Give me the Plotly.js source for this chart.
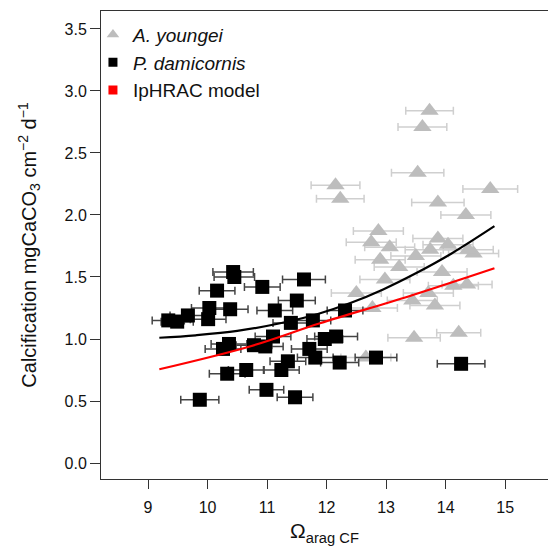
<!DOCTYPE html>
<html><head><meta charset="utf-8">
<script src="https://cdn.plot.ly/plotly-3.0.1.min.js"></script>
<style>html,body{margin:0;padding:0;overflow:hidden;background:#fff}</style>
</head><body><div id="chart" style="width:548px;height:549px"></div>
<script>
// A. youngei (grey triangles)
const youngeiOmega = [13.73,13.61,13.53,12.15,12.23,14.75,13.87,14.34,12.87,12.75,13.87,13.06,14.04,13.74,13.50,12.90,14.47,14.38,13.22,13.94,12.98,14.13,14.36,13.71,12.50,13.44,13.82,12.77,13.47,14.22,12.66];
const youngeiCalc  = [2.84,2.71,2.34,2.24,2.13,2.21,2.10,2.00,1.87,1.78,1.81,1.74,1.76,1.72,1.67,1.64,1.69,1.72,1.58,1.54,1.48,1.43,1.44,1.37,1.37,1.31,1.27,1.25,1.01,1.05,0.85];
const youngeiOmegaErr = [0.40,0.41,0.44,0.41,0.40,0.46,0.44,0.42,0.42,0.42,0.42,0.42,0.42,0.42,0.42,0.42,0.42,0.42,0.42,0.42,0.42,0.42,0.42,0.42,0.42,0.42,0.42,0.42,0.44,0.37,0.42];

// P. damicornis (black squares)
const damiOmega = [9.34,9.49,9.67,9.87,10.01,10.03,10.16,10.26,10.36,10.33,10.38,10.43,10.45,10.65,10.78,10.97,10.92,10.99,11.10,11.13,11.24,11.35,11.40,11.50,11.47,11.62,11.71,11.77,11.81,11.97,12.16,12.22,12.31,12.83,14.26];
const damiCalc  = [1.15,1.14,1.19,0.51,1.16,1.25,1.39,0.92,0.96,0.72,1.24,1.54,1.50,0.75,0.95,0.94,1.42,0.59,1.02,1.23,0.75,0.82,1.13,1.31,0.53,1.48,0.92,1.15,0.85,1.00,1.02,0.81,1.23,0.85,0.80];
const damiOmegaErr = [0.27,0.27,0.30,0.32,0.30,0.30,0.30,0.30,0.30,0.30,0.30,0.34,0.34,0.30,0.30,0.30,0.30,0.29,0.30,0.30,0.30,0.30,0.30,0.31,0.30,0.36,0.30,0.30,0.30,0.30,0.36,0.32,0.30,0.35,0.40];

// fitted curve (black) and IpHRAC model (red)
const fitOmega = [9.19,9.8,10.5,11.2,11.84,12.4,12.95,13.5,14.1,14.82];
const fitCalc  = [1.01,1.03,1.065,1.125,1.20,1.29,1.40,1.53,1.69,1.91];
const modelOmega = [9.19,10.71,11.89,13.40,14.82];
const modelCalc  = [0.756,0.94,1.127,1.347,1.57];

const xTickVals = [9,10,11,12,13,14,15];
const yTickVals = [0,0.5,1,1.5,2,2.5,3,3.5];
const yTickText = ['0.0','0.5','1.0','1.5','2.0','2.5','3.0','3.5'];

const traces = [
  {x: youngeiOmega, y: youngeiCalc, type:'scatter', mode:'markers', showlegend:false,
   marker:{symbol:'triangle-up', size:16, color:'#bdbdbd'},
   error_x:{type:'data', array: youngeiOmegaErr, color:'#cfcfcf', thickness:1.5, width:4}},
  {x: damiOmega, y: damiCalc, type:'scatter', mode:'markers', showlegend:false,
   marker:{symbol:'square', size:14, color:'#000'},
   error_x:{type:'data', array: damiOmegaErr, color:'#444', thickness:1.5, width:4}},
  {x: fitOmega, y: fitCalc, type:'scatter', mode:'lines', showlegend:false,
   line:{color:'#000', width:2.2, shape:'spline'}},
  {x: modelOmega, y: modelCalc, type:'scatter', mode:'lines', showlegend:false,
   line:{color:'#ff0000', width:2.2, shape:'spline'}},
  // legend entries
  {x:[null], y:[null], type:'scatter', mode:'markers', name:'<i>A. youngei</i>', legendgroup:'a',
   marker:{symbol:'triangle-up', size:11, color:'#bdbdbd'}},
  {x:[null], y:[null], type:'scatter', mode:'markers', name:'<i>P. damicornis</i>', legendgroup:'b',
   marker:{symbol:'square', size:9, color:'#000'}},
  {x:[null], y:[null], type:'scatter', mode:'markers', name:'IpHRAC model', legendgroup:'c',
   marker:{symbol:'square', size:9, color:'#ff0000'}}
];

const axisCommon = {
  showgrid:false, zeroline:false, showline:true, linecolor:'#333', linewidth:1,
  ticks:'outside', tickcolor:'#333', tickwidth:1,
  tickfont:{family:'Liberation Sans, Arial, sans-serif', size:16, color:'#111'}
};

const layout = {
  width:548, height:549,
  margin:{l:101, r:0, t:11, b:70},
  paper_bgcolor:'#fff', plot_bgcolor:'#fff',
  font:{family:'Liberation Sans, Arial, sans-serif', color:'#111'},
  xaxis: Object.assign({}, axisCommon, {
    range:[8.21,15.72], tickvals:xTickVals, mirror:true, ticklen:9, ticklabelstandoff:5,
    title:{text:'Ω<sub>arag CF</sub>', font:{size:21, color:'#111'}, standoff:8}
  }),
  yaxis: Object.assign({}, axisCommon, {
    range:[-0.129,3.645], tickvals:yTickVals, ticktext:yTickText, mirror:false, ticklen:10,
    title:{text:'Calcification mgCaCO<sub>3</sub> cm<sup>−2</sup> d<sup>−1</sup>', font:{size:20, color:'#111'}, standoff:22}
  }),
  legend:{x:-0.018, y:0.99, xanchor:'left', yanchor:'top', bgcolor:'rgba(0,0,0,0)',
    font:{size:19, color:'#111'}, traceorder:'grouped', tracegroupgap:0, itemwidth:30}
};

Plotly.newPlot('chart', traces, layout, {staticPlot:true, displayModeBar:false});
</script></body></html>
